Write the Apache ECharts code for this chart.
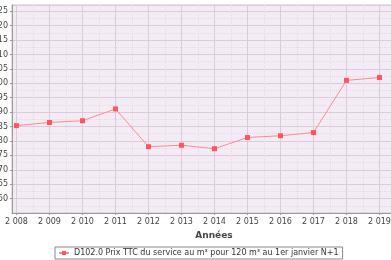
<!DOCTYPE html>
<html>
<head>
<meta charset="utf-8">
<script src="https://cdn.jsdelivr.net/npm/echarts@6/dist/echarts.min.js"></script>
<style>
html,body{margin:0;padding:0;background:#fff;overflow:hidden;width:391px;height:260px;}
#c{position:absolute;left:0;top:0;width:430px;height:260px;}
</style>
</head>
<body>
<div id="c"></div>
<script>
var years = [2008, 2009, 2010, 2011, 2012, 2013, 2014, 2015, 2016, 2017, 2018, 2019];
var prices = [1.853, 1.864, 1.870, 1.911, 1.780, 1.785, 1.773, 1.812, 1.818, 1.829, 2.010, 2.020];
var seriesName = 'D102.0 Prix TTC du service au m³ pour 120 m³ au 1er janvier N+1';
var xTitle = 'Années';

var chart = echarts.init(document.getElementById('c'), null, {renderer: 'canvas'});
var font = 'DejaVu Sans';
chart.setOption({
  animation: false,
  backgroundColor: '#ffffff',
  grid: {
    left: 12, right: 14, top: 5, bottom: 47,
    containLabel: false, outerBoundsMode: 'none',
    show: true, backgroundColor: '#f4ecf4', borderColor: '#c8c8c8', borderWidth: 1
  },
  legend: {
    left: 55, top: 247,
    padding: [2, 4, 2, 3],
    borderColor: '#888', borderWidth: 1,
    itemWidth: 10, itemHeight: 5, itemGap: 4,
    textStyle: {fontFamily: font, fontSize: 8, color: '#333'},
    data: [seriesName]
  },
  xAxis: {
    type: 'value',
    min: 2007.864, max: 2020.106,
    splitNumber: 12,
    name: xTitle, nameLocation: 'middle', nameGap: 18,
    nameTextStyle: {fontFamily: font, fontSize: 9, fontWeight: 'bold', color: '#444'},
    axisLine: {show: true, lineStyle: {color: '#999', width: 1}},
    axisTick: {show: true, length: 2, lineStyle: {color: '#999'}},
    axisLabel: {
      fontFamily: font, fontSize: 8, color: '#444', margin: 5,
      showMinLabel: false, showMaxLabel: false,
      formatter: function (v) { return String(v).replace(/^(\d)(\d{3})$/, '$1 $2'); }
    },
    splitLine: {show: true, lineStyle: {color: '#dccbdc', width: 1}},
    minorTick: {show: false, splitNumber: 2},
    minorSplitLine: {show: true, lineStyle: {color: '#e6dae6', width: 1, type: [1, 1]}}
  },
  yAxis: {
    type: 'value',
    min: 1.55, max: 2.2715, interval: 0.05,
    axisLine: {show: true, lineStyle: {color: '#999', width: 1}},
    axisTick: {show: true, length: 2, lineStyle: {color: '#999'}},
    axisLabel: {
      fontFamily: font, fontSize: 8, color: '#444', margin: 4,
      showMinLabel: false, showMaxLabel: false,
      formatter: function (v) { return v.toFixed(2).replace('.', ','); }
    },
    splitLine: {show: true, lineStyle: {color: '#dccbdc', width: 1}},
    minorTick: {show: false, splitNumber: 2},
    minorSplitLine: {show: true, lineStyle: {color: '#e6dae6', width: 1, type: [1, 1]}}
  },
  series: [{
    name: seriesName,
    type: 'line',
    data: years.map(function (y, i) { return [y, prices[i]]; }),
    symbol: 'rect', symbolSize: 5, showSymbol: true,
    lineStyle: {color: '#ff8a8a', width: 1},
    itemStyle: {color: '#ff5560'}
  }]
});
</script>
</body>
</html>
